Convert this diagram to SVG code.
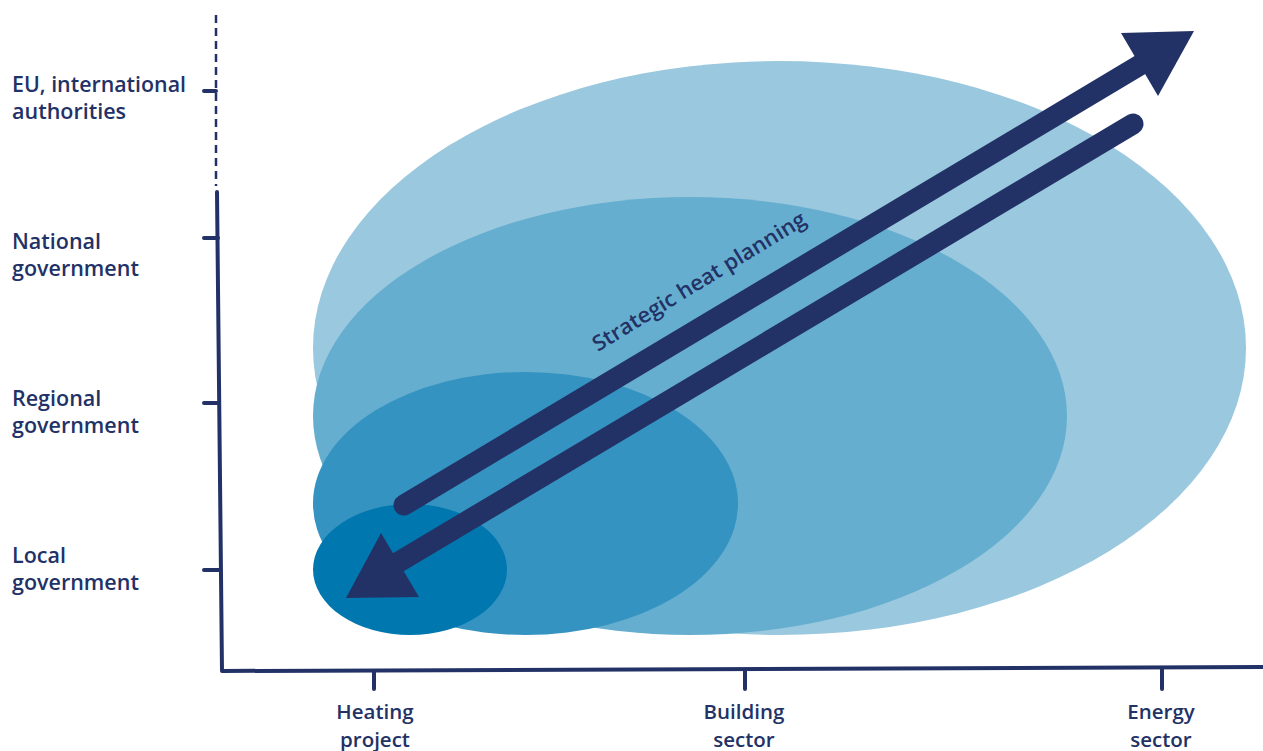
<svg xmlns="http://www.w3.org/2000/svg" width="1263" height="751" viewBox="0 0 1263 751">
<style>
.lbl{font-family:"Open Sans","Liberation Sans",sans-serif;font-weight:600;font-size:21.5px;fill:#233266}
.xl{text-anchor:middle;font-size:20.5px}
.ax{stroke:#233266;stroke-width:4;fill:none;stroke-linecap:round;stroke-linejoin:round}
.shaft{stroke:#233266;stroke-width:21;fill:none;stroke-linecap:round}
.head{fill:#233266}
</style>
<rect width="1263" height="751" fill="#ffffff"/>
<g id="scopes">
<ellipse id="energy-scope" cx="779.5" cy="348" rx="466.5" ry="287" fill="#9ac8de"/>
<ellipse id="building-scope" cx="690" cy="416" rx="377" ry="219" fill="#66aecf"/>
<ellipse id="regional-scope" cx="525.5" cy="503.5" rx="212.5" ry="131.5" fill="#3493c0"/>
<ellipse id="heating-scope" cx="410" cy="569.5" rx="97" ry="65.5" fill="#0077ae"/>
</g>
<g id="axes">
<line x1="216" y1="15" x2="216" y2="186" stroke="#233266" stroke-width="2.5" stroke-dasharray="8,5"/>
<path class="ax" d="M217,192 L222,671 L1263,667"/>
<path class="ax" d="M204,91 H216 M204,238 H218 M204,403 H219 M204,570 H220"/>
<path class="ax" d="M374,671 V689 M745,670 V689 M1162,669 V689"/>
</g>
<g id="y-labels">
<text class="lbl" x="12" y="92" textLength="174" lengthAdjust="spacingAndGlyphs">EU, international</text>
<text class="lbl" x="12" y="119">authorities</text>
<text class="lbl" x="12" y="249">National</text>
<text class="lbl" x="12" y="276">government</text>
<text class="lbl" x="12" y="406">Regional</text>
<text class="lbl" x="12" y="433">government</text>
<text class="lbl" x="12" y="563">Local</text>
<text class="lbl" x="12" y="590">government</text>
</g>
<g id="x-labels">
<text class="lbl xl" x="375" y="719">Heating</text>
<text class="lbl xl" x="375" y="747">project</text>
<text class="lbl xl" x="744" y="719">Building</text>
<text class="lbl xl" x="744" y="747">sector</text>
<text class="lbl xl" x="1161" y="719">Energy</text>
<text class="lbl xl" x="1161" y="747">sector</text>
</g>
<g id="connectors">
<g id="arrow-up">
<line class="shaft" x1="404" y1="505" x2="1145" y2="62"/>
<polygon class="head" points="1194,31 1121,33 1158,96"/>
</g>
<g id="arrow-down">
<line class="shaft" x1="1133" y1="124" x2="392" y2="566"/>
<polygon class="head" points="346,598 381,533 419,597"/>
</g>
<text id="arrow-label" class="lbl" x="0" y="0" font-size="20" font-weight="700" textLength="246" lengthAdjust="spacingAndGlyphs" transform="translate(598,352) rotate(-31.5)">Strategic heat planning</text>
</g>
</svg>
